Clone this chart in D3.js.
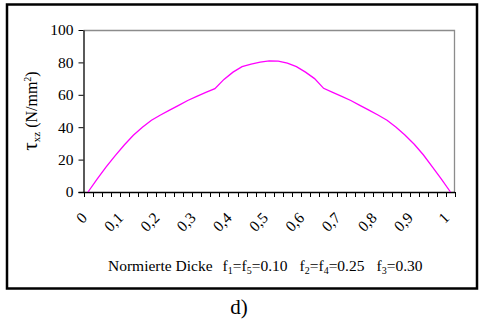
<!DOCTYPE html>
<html>
<head>
<meta charset=utf-8>
<title>Schubspannung</title>
<style>
body{margin: 0; background: #fff;}
svg text{font-family: "Liberation Serif", "Times New Roman", serif; fill: #000;}
#curve{fill: none; stroke: #ff00ff; stroke-width: 1.3;}
.axis path, .axis line{stroke: #000;}
</style>
</head>
<body>
<div id=wholechart></div>
<script src="https://cdn.jsdelivr.net/npm/d3@7"></script>
<script>
//normierte Dicke, 41 Kategorien
var categories = [0, 0.025, 0.05, 0.075, 0.1, 0.125, 0.15, 0.175, 0.2, 0.225,
  0.25, 0.275, 0.3, 0.325, 0.35, 0.375, 0.4, 0.425, 0.45, 0.475,
  0.5, 0.525, 0.55, 0.575, 0.6, 0.625, 0.65, 0.675, 0.7, 0.725,
  0.75, 0.775, 0.8, 0.825, 0.85, 0.875, 0.9, 0.925, 0.95, 0.975, 1];
//tau_xz in N/mm2
var tauValues = [0, 8, 15.5, 22.5, 29, 35, 40, 44.3, 47.5, 50.5,
  53.5, 56.5, 59, 61.5, 63.8, 69.5, 74, 77.4, 79, 80.2,
  80.9, 80.8, 79.5, 77.4, 74, 70, 64, 61.5, 59, 56.5,
  53.5, 50.5, 47.5, 44.3, 40, 35, 29.5, 23, 15.5, 8, 0];
//every 4th category gets a label
var xTickLabels = ['0', '0,1', '0,2', '0,3', '0,4', '0,5', '0,6', '0,7', '0,8', '0,9', '1'];
var yTicks = [0, 20, 40, 60, 80, 100];

var W = 480, H = 322;
var plot = {left: 83.5, right: 455, top: 30, bottom: 192};

var svg = d3.select('#wholechart').append('svg')
    .attr('width', W)
    .attr('height', H);

//outer frame
svg.append('rect')
    .attr('x', 7).attr('y', 4.5)
    .attr('width', 470).attr('height', 284)
    .attr('fill', 'none')
    .attr('stroke', '#000')
    .attr('stroke-width', 2.5);

//scales: categories sit between ticks (excel style)
var x = d3.scaleLinear().domain([-0.5, categories.length - 0.5]).range([plot.left, plot.right]);
var y = d3.scaleLinear().domain([0, 100]).range([plot.bottom, plot.top]);

//plot border top + right
svg.append('path')
    .attr('d', 'M' + plot.left + ',' + (plot.top + 0.5) + 'H' + (plot.right - 0.5) + 'V' + plot.bottom)
    .attr('fill', 'none')
    .attr('stroke', '#8c8c8c')
    .attr('stroke-width', 1.3);

//y axis
var yAxis = svg.append('g')
    .attr('class', 'axis')
    .attr('transform', 'translate(' + plot.left + ',0)')
    .call(d3.axisLeft(y).tickValues(yTicks).tickSize(5).tickSizeOuter(0).tickPadding(5));
yAxis.selectAll('text')
    .style('font-size', '15.5px')
    .style('font-family', '"Liberation Serif", serif');
yAxis.select('.domain').attr('stroke-width', 1.3);

//x axis line + ticks on category boundaries
var xAxis = svg.append('g').attr('class', 'axis');
xAxis.append('line')
    .attr('x1', plot.left - 5).attr('x2', plot.right)
    .attr('y1', plot.bottom + 0.5).attr('y2', plot.bottom + 0.5)
    .attr('stroke-width', 1.3);
xAxis.selectAll('.xtick')
    .data(d3.range(categories.length + 1))
  .enter().append('line')
    .attr('class', 'xtick')
    .attr('x1', d => Math.round(x(d - 0.5)) + 0.5)
    .attr('x2', d => Math.round(x(d - 0.5)) + 0.5)
    .attr('y1', plot.bottom)
    .attr('y2', plot.bottom + 5);

//rotated tick labels
xAxis.selectAll('.xlabel')
    .data(xTickLabels)
  .enter().append('text')
    .attr('class', 'xlabel')
    .attr('text-anchor', 'end')
    .attr('transform', (d, i) => 'translate(' + (x(i * 4) - 4) + ',' + (plot.bottom + 23) + ') rotate(-45)')
    .attr('dy', '0.35em')
    .style('font-size', '15.5px')
    .text(d => d);

//curve
var line = d3.line()
    .x((d, i) => x(i))
    .y(d => y(d));

svg.append('path')
    .datum(tauValues)
    .attr('id', 'curve')
    .attr('d', line);

//x title
var xt = svg.append('text')
    .attr('x', 108)
    .attr('y', 271)
    .style('font-size', '15.5px');
xt.append('tspan').text('Normierte Dicke');
xt.append('tspan').attr('dx', 10).text('f');
xt.append('tspan').attr('dy', 3).style('font-size', '10px').text('1');
xt.append('tspan').attr('dy', -3).text('=f');
xt.append('tspan').attr('dy', 3).style('font-size', '10px').text('5');
xt.append('tspan').attr('dy', -3).text('=0.10');
xt.append('tspan').attr('dx', 12).text('f');
xt.append('tspan').attr('dy', 3).style('font-size', '10px').text('2');
xt.append('tspan').attr('dy', -3).text('=f');
xt.append('tspan').attr('dy', 3).style('font-size', '10px').text('4');
xt.append('tspan').attr('dy', -3).text('=0.25');
xt.append('tspan').attr('dx', 12).text('f');
xt.append('tspan').attr('dy', 3).style('font-size', '10px').text('3');
xt.append('tspan').attr('dy', -3).text('=0.30');

//y title
var yt = svg.append('text')
    .attr('text-anchor', 'middle')
    .attr('transform', 'translate(37,' + ((plot.top + plot.bottom) / 2) + ') rotate(-90)')
    .style('font-size', '16px');
yt.append('tspan').style('font-size', '21px').text('τ');
yt.append('tspan').attr('dy', 3).style('font-size', '11px').text('xz');
yt.append('tspan').attr('dy', -3).text(' (N/mm');
yt.append('tspan').attr('dy', -6).style('font-size', '10px').text('2');
yt.append('tspan').attr('dy', 6).text(')');

//subfigure caption
svg.append('text')
    .attr('x', 239)
    .attr('y', 314)
    .attr('text-anchor', 'middle')
    .style('font-size', '21px')
    .text('d)');
</script>
</body>
</html>
